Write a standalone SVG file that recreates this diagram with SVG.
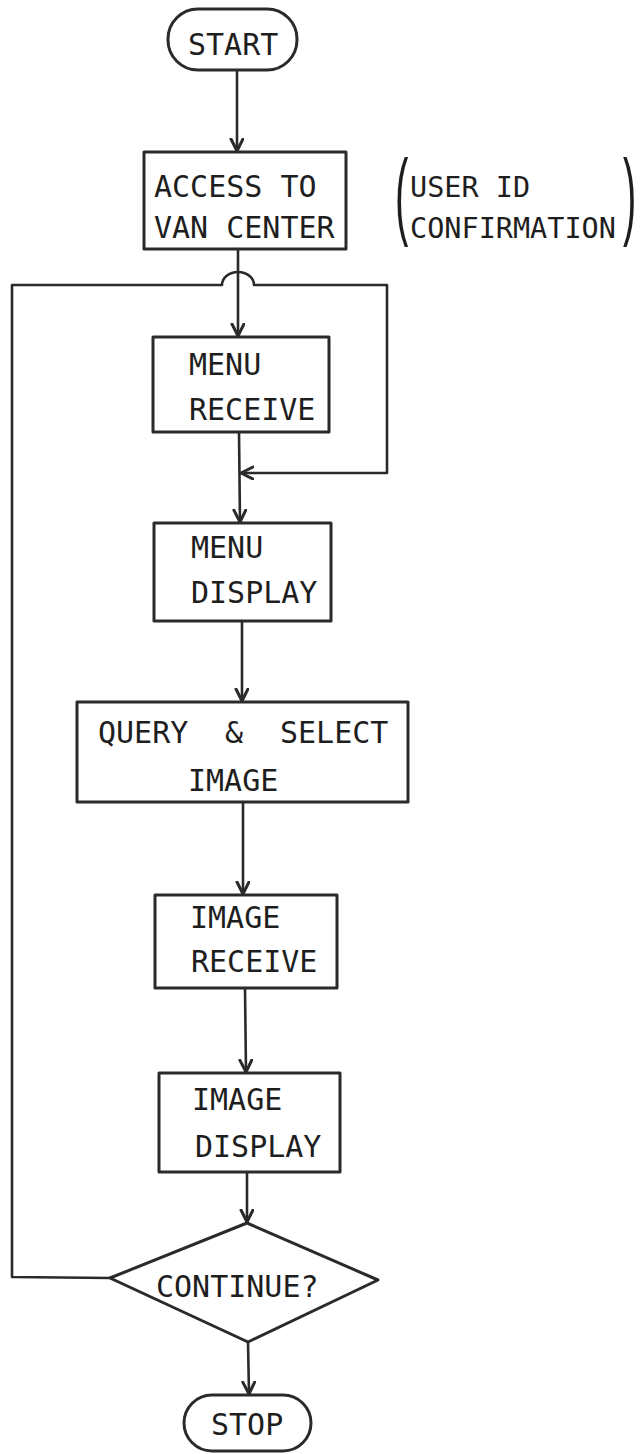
<svg xmlns="http://www.w3.org/2000/svg" width="640" height="1454" viewBox="0 0 640 1454">
<style>
.shape{fill:none;stroke:#2a2a2a;stroke-width:3;stroke-linejoin:round}
.line{fill:none;stroke:#2a2a2a;stroke-width:2.6;stroke-linecap:round;stroke-linejoin:round}
.t{font-family:"DejaVu Sans Mono","Liberation Mono",monospace;font-size:30px;fill:#1e1e1e}
.n{font-family:"DejaVu Sans Mono","Liberation Mono",monospace;font-size:28.5px;fill:#1e1e1e}
.p{font-family:"Liberation Sans","DejaVu Sans",sans-serif;font-size:40px;fill:#1e1e1e}
</style>
<defs>
<marker id="arr" markerUnits="userSpaceOnUse" markerWidth="20" markerHeight="20" refX="13" refY="7" orient="auto">
<path d="M1,1 L13,7 L1,13" fill="none" stroke="#2a2a2a" stroke-width="3" stroke-linecap="round" stroke-linejoin="round"/>
</marker>
</defs>
<rect width="640" height="1454" fill="#ffffff"/>
<g id="connectors">
<line class="line" x1="237" y1="71" x2="237" y2="151" marker-end="url(#arr)"/>
<line class="line" x1="238" y1="249" x2="238" y2="336" marker-end="url(#arr)"/>
<line class="line" x1="239" y1="432" x2="240" y2="522" marker-end="url(#arr)"/>
<line class="line" x1="242" y1="621" x2="242" y2="701" marker-end="url(#arr)"/>
<line class="line" x1="243" y1="802" x2="243" y2="894" marker-end="url(#arr)"/>
<line class="line" x1="245" y1="988" x2="246" y2="1072" marker-end="url(#arr)"/>
<line class="line" x1="247" y1="1172" x2="247" y2="1222" marker-end="url(#arr)"/>
<line class="line" x1="248" y1="1342" x2="249" y2="1394" marker-end="url(#arr)"/>
<path class="line" d="M110,1278 L12,1277 L12,285 L222,285 A16,13 0 0 1 254,285 L387,285 L387,473 L241,473" marker-end="url(#arr)"/>
</g>
<g id="start">
<rect class="shape" x="168" y="9" width="129" height="61" rx="30" ry="30"/>
<text class="t" x="188" y="55">START</text>
</g>
<g id="access">
<rect class="shape" x="144" y="152" width="202" height="97"/>
<text class="t" x="154" y="197">ACCESS TO</text>
<text class="t" x="154" y="238">VAN CENTER</text>
</g>
<g id="note">
<text class="p" transform="translate(395,227) scale(1,2.4)">(</text>
<text class="n" x="410" y="197">USER ID</text>
<text class="n" x="410" y="238">CONFIRMATION</text>
<text class="p" transform="translate(623,227) scale(1,2.4)">)</text>
</g>
<g id="menu-receive">
<rect class="shape" x="153" y="337" width="176" height="95"/>
<text class="t" x="189" y="375">MENU</text>
<text class="t" x="189" y="420">RECEIVE</text>
</g>
<g id="menu-display">
<rect class="shape" x="154" y="523" width="177" height="98"/>
<text class="t" x="191" y="558">MENU</text>
<text class="t" x="191" y="603">DISPLAY</text>
</g>
<g id="query">
<rect class="shape" x="77" y="702" width="331" height="100"/>
<text class="t" y="743"><tspan x="98">QUERY </tspan><tspan x="225">&amp; </tspan><tspan x="280">SELECT</tspan></text>
<text class="t" x="188" y="791">IMAGE</text>
</g>
<g id="image-receive">
<rect class="shape" x="155" y="895" width="182" height="93"/>
<text class="t" x="190" y="928">IMAGE</text>
<text class="t" x="191" y="972">RECEIVE</text>
</g>
<g id="image-display">
<rect class="shape" x="159" y="1073" width="181" height="99"/>
<text class="t" x="192" y="1110">IMAGE</text>
<text class="t" x="195" y="1157">DISPLAY</text>
</g>
<g id="continue">
<polygon class="shape" points="110,1278 247,1223 378,1280 248,1342"/>
<text class="t" x="156" y="1297">CONTINUE?</text>
</g>
<g id="stop">
<rect class="shape" x="184" y="1395" width="127" height="56" rx="28" ry="28"/>
<text class="t" x="211" y="1435">STOP</text>
</g>
</svg>
